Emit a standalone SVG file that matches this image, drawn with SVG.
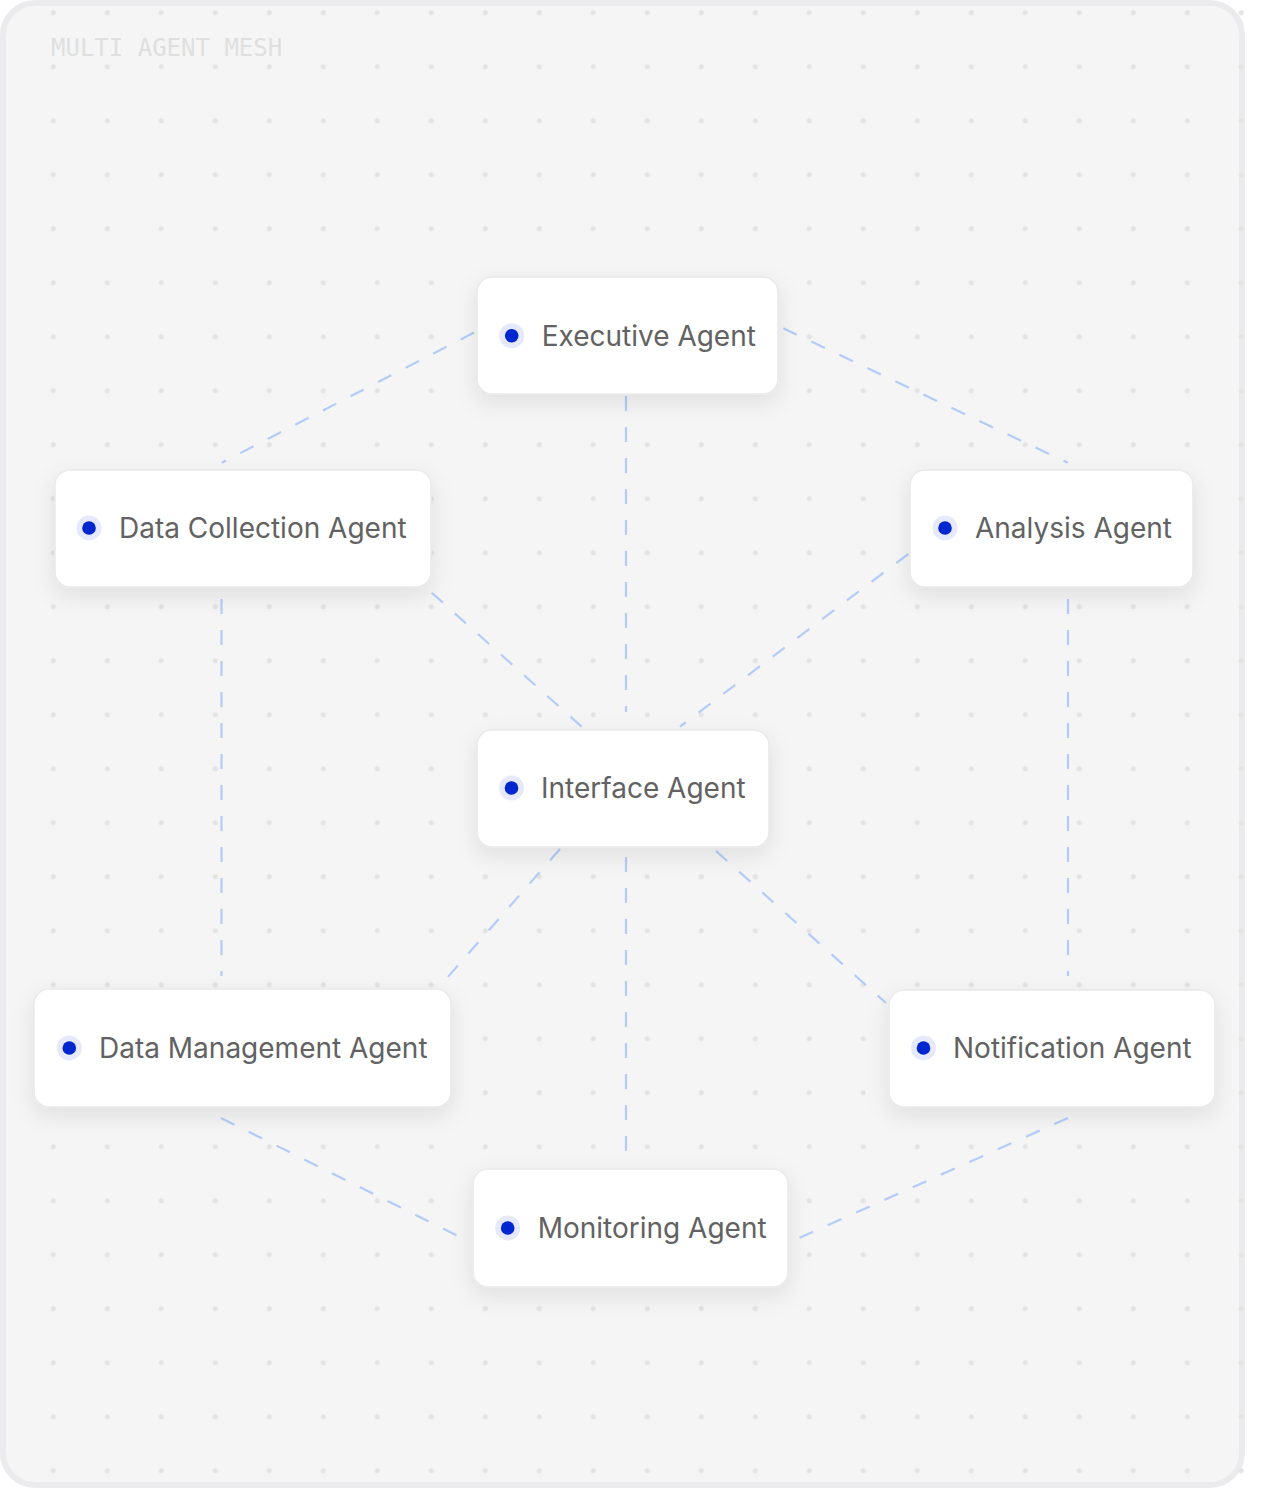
<svg xmlns="http://www.w3.org/2000/svg" width="1267" height="1490" viewBox="0 0 1267 1490">
<defs>
<pattern id="grid" patternUnits="userSpaceOnUse" x="26.3" y="-14.3" width="54" height="54">
<circle cx="27" cy="27" r="2.6" fill="#e3e3e3"/>
</pattern>
<filter id="shadow" x="-30%" y="-40%" width="160%" height="200%">
<feDropShadow dx="0" dy="8" stdDeviation="11" flood-color="#000" flood-opacity="0.09"/>
</filter>
<style>
.box{fill:#ffffff;stroke:#e9e9e9;stroke-width:1.5;filter:url(#shadow)}
.halo{fill:#e5e9fb}
.core{fill:#0027cf}
.label{font-family:Inter,"Liberation Sans",sans-serif;font-size:28px;fill:#626262}
.edge{stroke:#b4ccf7;stroke-width:2.2;stroke-dasharray:15 16;fill:none}
.title{font-family:"DejaVu Sans Mono","Liberation Mono",monospace;font-size:24px;fill:#dfdfdf}
</style>
</defs>
<rect width="1267" height="1490" fill="#ffffff"/>
<rect x="3" y="3" width="1239" height="1482" rx="32" fill="#f5f5f5" stroke="#ebebed" stroke-width="6"/>
<rect x="20" y="0" width="1247" height="1490" fill="url(#grid)"/>
<text class="title" x="51" y="56">MULTI AGENT MESH</text>
<g id="connectors">
<line class="edge" x1="474" y1="332.6" x2="221.7" y2="462.7"/>
<line class="edge" x1="783.3" y1="328.3" x2="1067.7" y2="462.7"/>
<line class="edge" x1="626" y1="396" x2="626" y2="712"/>
<line class="edge" x1="431.7" y1="592.7" x2="581.7" y2="726.7"/>
<line class="edge" x1="908.3" y1="554" x2="680" y2="726.7"/>
<line class="edge" x1="221.5" y1="599" x2="221.5" y2="976"/>
<line class="edge" x1="1068" y1="599" x2="1068" y2="976"/>
<line class="edge" x1="560" y1="849" x2="447" y2="978"/>
<line class="edge" x1="716" y1="851" x2="886" y2="1003"/>
<line class="edge" x1="626" y1="857" x2="626" y2="1160"/>
<line class="edge" x1="221" y1="1118" x2="470" y2="1242"/>
<line class="edge" x1="1068" y1="1118" x2="790" y2="1242"/>
</g>
<g id="node-executive">
<rect class="box" x="477" y="277" width="301" height="117" rx="15"/>
<circle class="halo" cx="511.7" cy="335.7" r="12.5"/>
<circle class="core" cx="511.7" cy="335.7" r="6.8"/>
<text class="label" x="541.7" y="346">Executive Agent</text>
</g>
<g id="node-data-collection">
<rect class="box" x="55" y="470" width="376" height="117" rx="15"/>
<circle class="halo" cx="89" cy="528" r="12.5"/>
<circle class="core" cx="89" cy="528" r="6.8"/>
<text class="label" x="119" y="538">Data Collection Agent</text>
</g>
<g id="node-analysis">
<rect class="box" x="910" y="470" width="283" height="117" rx="15"/>
<circle class="halo" cx="945" cy="528" r="12.5"/>
<circle class="core" cx="945" cy="528" r="6.8"/>
<text class="label" x="975" y="538">Analysis Agent</text>
</g>
<g id="node-interface">
<rect class="box" x="477" y="730" width="292" height="117" rx="15"/>
<circle class="halo" cx="511.5" cy="788" r="12.5"/>
<circle class="core" cx="511.5" cy="788" r="6.8"/>
<text class="label" x="541" y="798">Interface Agent</text>
</g>
<g id="node-data-management">
<rect class="box" x="34" y="989" width="417" height="118" rx="15"/>
<circle class="halo" cx="69.3" cy="1048" r="12.5"/>
<circle class="core" cx="69.3" cy="1048" r="6.8"/>
<text class="label" x="99" y="1058">Data Management Agent</text>
</g>
<g id="node-notification">
<rect class="box" x="889" y="990" width="326" height="117" rx="15"/>
<circle class="halo" cx="923.5" cy="1048" r="12.5"/>
<circle class="core" cx="923.5" cy="1048" r="6.8"/>
<text class="label" x="953" y="1058">Notification Agent</text>
</g>
<g id="node-monitoring">
<rect class="box" x="473" y="1169" width="315" height="118" rx="15"/>
<circle class="halo" cx="507.7" cy="1228" r="12.5"/>
<circle class="core" cx="507.7" cy="1228" r="6.8"/>
<text class="label" x="537.7" y="1238">Monitoring Agent</text>
</g>
</svg>
